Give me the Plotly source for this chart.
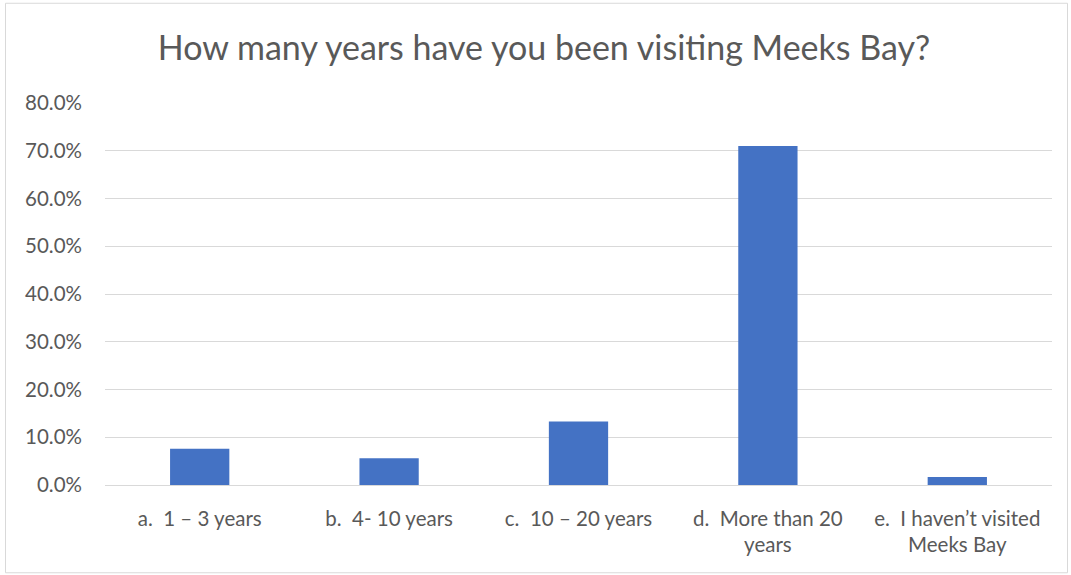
import plotly.graph_objects as go

categories = ["a.  1 – 3 years", "b.  4- 10 years", "c.  10 – 20 years",
              "d.  More than 20<br>years", "e.  I haven’t visited<br>Meeks Bay"]
values = [0.076, 0.056, 0.133, 0.710, 0.017]
y_ticks = [0, 0.1, 0.2, 0.3, 0.4, 0.5, 0.6, 0.7, 0.8]
title_text = "How many years have you been visiting Meeks Bay?"

W, H = 1071, 575
L, R, T, B = 105, 1071 - 1052, 102.5, 575 - 485.5
pw, ph = W - L - R, H - T - B

def px(x):
    return (x - L) / pw

def py(y):
    return (H - B - y) / ph

FONT = "Lato"
GRAY = "#595959"

fig = go.Figure(go.Bar(x=categories, y=values, marker=dict(color="#4472C4", line=dict(width=0)),
                       width=0.313))

fig.update_layout(
    width=W, height=H,
    margin=dict(l=L, r=R, t=T, b=B),
    paper_bgcolor="white", plot_bgcolor="white",
    showlegend=False,
    title=dict(text=title_text, x=px(544), xref="paper", xanchor="center",
               y=1 - 48 / H, yanchor="middle",
               font=dict(family=FONT, size=34, color=GRAY)),
    font=dict(family=FONT, color=GRAY),
    bargap=0.687,
)
fig.update_yaxes(range=[0, 0.8], tickvals=y_ticks, tickformat=".1%",
                 showgrid=True, gridcolor="#d9d9d9", gridwidth=1,
                 zeroline=True, zerolinecolor="#d9d9d9", zerolinewidth=1,
                 showline=False, ticks="", ticklabelstandoff=22,
                 tickfont=dict(family=FONT, size=20.5, color=GRAY))
fig.update_xaxes(showgrid=False, showline=False, ticks="", ticklabelstandoff=19,
                 tickfont=dict(family=FONT, size=20.5, color=GRAY))

fig.add_shape(type="rect", xref="paper", yref="paper",
              x0=px(5.5), x1=px(1067.5), y0=py(573.5), y1=py(2.5),
              line=dict(color="#d9d9d9", width=1), layer="below")

fig.write_html("out.html", config={"displayModeBar": False},
               post_script="document.body.style.margin='0px';")
